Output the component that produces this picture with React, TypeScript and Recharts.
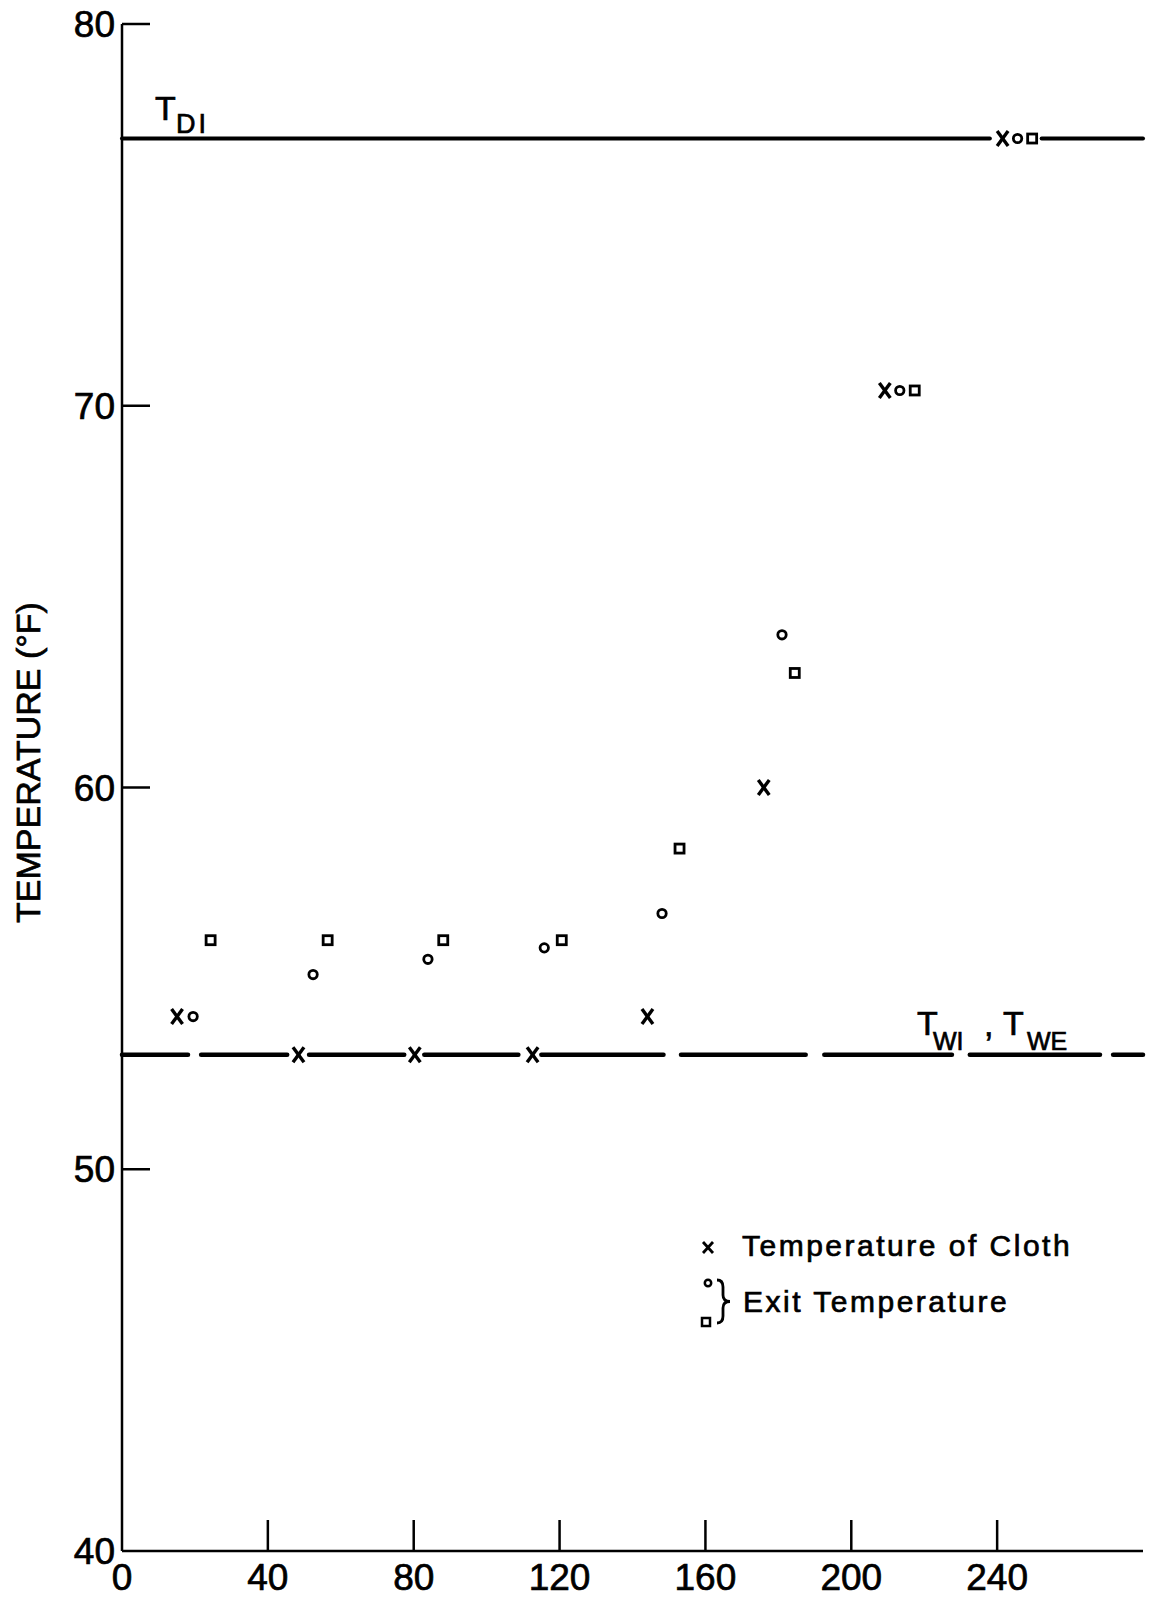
import React from 'react';
import {
  ScatterChart,
  Scatter,
  XAxis,
  YAxis,
  ReferenceLine,
  ReferenceDot,
  Legend,
} from 'recharts';

const FONT = '"Liberation Sans", Arial, sans-serif';
const TXT = { fontFamily: FONT, fill: '#000', stroke: '#000', strokeWidth: 0.7 };

// ---- data ----
const xTicks = [0, 40, 80, 120, 160, 200, 240];
const yTicks = [40, 50, 60, 70, 80];

const clothX = [15.1, 48.4, 80.3, 112.6, 144.1, 176.0, 209.2, 241.5];
const clothTemp = [54.0, 53.0, 53.0, 53.0, 54.0, 60.0, 70.4, 77.0];

const exitCircleX = [19.5, 52.4, 83.9, 115.8, 148.1, 181.0, 213.3, 245.6];
const exitCircleTemp = [54.0, 55.1, 55.5, 55.8, 56.7, 64.0, 70.4, 77.0];

const exitSquareX = [24.3, 56.4, 88.1, 120.6, 152.9, 184.5, 217.4, 249.6];
const exitSquareTemp = [56.0, 56.0, 56.0, 56.0, 58.4, 63.0, 70.4, 77.0];

const tdiLevel = 77;
const tdiSegments = [
  [0, 238.0],
  [252.2, 280],
];

const twLevel = 53;
const twSegments = [
  [0, 18.1],
  [21.7, 45.3],
  [51.3, 77.4],
  [82.9, 108.7],
  [115.0, 148.5],
  [153.3, 187.5],
  [192.6, 227.6],
  [232.5, 268.2],
  [271.8, 280],
];

const clothData = clothX.map((x, i) => ({ x, y: clothTemp[i] }));
const circleData = exitCircleX.map((x, i) => ({ x, y: exitCircleTemp[i] }));
const squareData = exitSquareX.map((x, i) => ({ x, y: exitSquareTemp[i] }));

// ---- marks ----
const CrossMark = (p: any) => {
  const { cx, cy } = p;
  return (
    <g stroke="#000" strokeWidth={3.4}>
      <line x1={cx - 5.5} y1={cy - 7.5} x2={cx + 5.5} y2={cy + 7.5} />
      <line x1={cx + 5.5} y1={cy - 7.5} x2={cx - 5.5} y2={cy + 7.5} />
    </g>
  );
};
const CircleMark = (p: any) => (
  <circle cx={p.cx} cy={p.cy} r={4.2} fill="#fff" stroke="#000" strokeWidth={2.8} />
);
const SquareMark = (p: any) => (
  <rect x={p.cx - 4.5} y={p.cy - 4.5} width={9} height={9} fill="#fff" stroke="#000" strokeWidth={2.8} />
);

// ---- ticks ----
const XTick = (p: any) => {
  const { x, y, payload } = p;
  return (
    <g>
      {payload.value !== 0 && (
        <line x1={x} x2={x} y1={y} y2={y - 31} stroke="#000" strokeWidth={2.5} />
      )}
      <text x={x} y={y + 39} textAnchor="middle" fontSize={37} {...TXT}>
        {payload.value}
      </text>
    </g>
  );
};

const YTick = (p: any) => {
  const { x, y, payload } = p;
  return (
    <g>
      {payload.value !== 40 && (
        <line x1={x} x2={x + 28} y1={y} y2={y} stroke="#000" strokeWidth={2.5} />
      )}
      <text x={x - 7} y={y + 13} textAnchor="end" fontSize={37} {...TXT}>
        {payload.value}
      </text>
    </g>
  );
};

const YTitle = (p: any) => {
  const vb = p.viewBox || { x: 0, y: 24, height: 1527 };
  const cx = 28;
  const cy = vb.y + vb.height / 2 - 25;
  return (
    <text
      x={cx}
      y={cy}
      textAnchor="middle"
      dominantBaseline="central"
      transform={`rotate(-90, ${cx}, ${cy})`}
      fontSize={34}
      {...TXT}
    >
      TEMPERATURE (°F)
    </text>
  );
};

// ---- annotations ----
const TdiLabel = (p: any) => {
  const { cx, cy } = p;
  return (
    <g>
      <text x={cx - 1} y={cy - 19} fontSize={34} {...TXT}>T</text>
      <text x={cx + 20} y={cy - 6} fontSize={27} letterSpacing={3} {...TXT}>DI</text>
    </g>
  );
};

const TwLabel = (p: any) => {
  const { cx, cy } = p;
  return (
    <g>
      <text x={cx} y={cy - 20} fontSize={34} {...TXT}>T</text>
      <text x={cx + 16} y={cy - 5} fontSize={25} {...TXT}>WI</text>
      <text x={cx + 67} y={cy - 19} fontSize={34} {...TXT}>,</text>
      <text x={cx + 86} y={cy - 20} fontSize={34} {...TXT}>T</text>
      <text x={cx + 110} y={cy - 5} fontSize={25} {...TXT}>WE</text>
    </g>
  );
};

// ---- legend ----
const LegendBox = () => (
  <svg width={440} height={110} style={{ display: 'block' }}>
    <g stroke="#000" strokeWidth={2.8}>
      <line x1={13} y1={17} x2={23} y2={28} />
      <line x1={23} y1={17} x2={13} y2={28} />
    </g>
    <text x={52} y={31} fontSize={30} letterSpacing={2.5} {...TXT}>
      Temperature of Cloth
    </text>
    <circle cx={18} cy={58} r={3.2} fill="#fff" stroke="#000" strokeWidth={2.5} />
    <rect x={12} y={93} width={8} height={8} fill="#fff" stroke="#000" strokeWidth={2.5} />
    <path
      d="M27,55 Q33,55 33,62 L33,70 Q33,76.5 40,76.5 Q33,76.5 33,83 L33,91 Q33,98 27,98"
      fill="none"
      stroke="#000"
      strokeWidth={2.8}
    />
    <text x={53} y={87} fontSize={30} letterSpacing={2.5} {...TXT}>
      Exit Temperature
    </text>
  </svg>
);

export default function App() {
  return (
    <div style={{ position: 'absolute', left: 0, top: 0, width: 1149, height: 1600, background: '#fff' }}>
      <ScatterChart width={1149} height={1600} margin={{ top: 24, right: 6, bottom: 0, left: 0 }}>
        <XAxis
          type="number"
          dataKey="x"
          domain={[0, 280]}
          ticks={xTicks}
          tick={<XTick />}
          tickLine={false}
          tickSize={0}
          tickMargin={0}
          height={49}
          axisLine={{ stroke: '#000', strokeWidth: 2.5 }}
          allowDataOverflow
          interval={0}
        />
        <YAxis
          type="number"
          dataKey="y"
          domain={[40, 80]}
          ticks={yTicks}
          tick={<YTick />}
          tickLine={false}
          tickSize={0}
          tickMargin={0}
          width={122}
          axisLine={{ stroke: '#000', strokeWidth: 2.5 }}
          allowDataOverflow
          interval={0}
          label={<YTitle />}
        />
        {tdiSegments.map((s, i) => (
          <ReferenceLine
            key={'tdi' + i}
            segment={[
              { x: s[0], y: tdiLevel },
              { x: s[1], y: tdiLevel },
            ]}
            stroke="#000"
            strokeWidth={4}
            strokeLinecap="round"
            ifOverflow="visible"
          />
        ))}
        {twSegments.map((s, i) => (
          <ReferenceLine
            key={'tw' + i}
            segment={[
              { x: s[0], y: twLevel },
              { x: s[1], y: twLevel },
            ]}
            stroke="#000"
            strokeWidth={4.5}
            strokeLinecap="round"
            ifOverflow="visible"
          />
        ))}
        <ReferenceDot x={9.3} y={tdiLevel} shape={TdiLabel} ifOverflow="visible" />
        <ReferenceDot x={218} y={twLevel} shape={TwLabel} ifOverflow="visible" />
        <Scatter name="Temperature of Cloth" data={clothData} shape={CrossMark} isAnimationActive={false} />
        <Scatter name="Exit Temperature (circle)" data={circleData} shape={CircleMark} isAnimationActive={false} />
        <Scatter name="Exit Temperature (square)" data={squareData} shape={SquareMark} isAnimationActive={false} />
        <Legend
          layout="vertical"
          align="center"
          verticalAlign="middle"
          content={() => <LegendBox />}
          wrapperStyle={{ position: 'absolute', left: 690, top: 1225, width: 440, height: 110 }}
        />
      </ScatterChart>
    </div>
  );
}
